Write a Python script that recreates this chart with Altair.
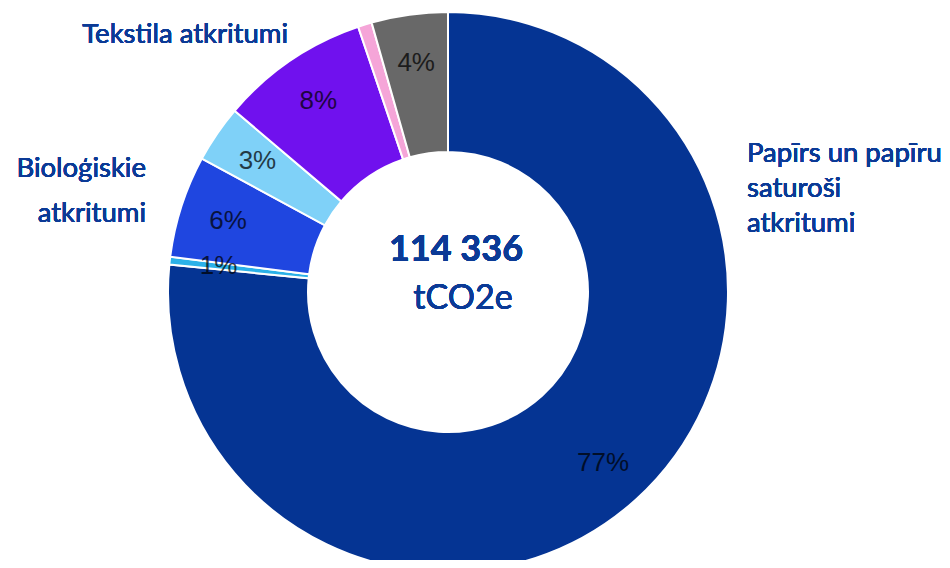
import altair as alt
import pandas as pd

categories = ["Papīrs un papīru saturoši atkritumi", "Cits 1", "Bioloģiskie atkritumi",
              "Cits 2", "Tekstila atkritumi", "Cits 3", "Cits 4"]
values = [76.6, 0.45, 5.9, 3.3, 8.6, 0.8, 4.4]
pct_labels = ["77%", "1%", "6%", "3%", "8%", "", "4%"]
colors = ["#053493", "#2bb1e8", "#1f46e0", "#7fd1f8", "#7011ee", "#f5a5d8", "#686868"]
total_label = "114 336"
unit_label = "tCO2e"

df = pd.DataFrame({"cat": categories, "value": values, "label": pct_labels,
                   "order": list(range(len(categories)))})

CX, CY = 440, 284
base = alt.Chart(df).encode(
    theta=alt.Theta("value:Q", stack=True),
    order=alt.Order("order:Q"),
)

arcs = base.mark_arc(outerRadius=280, innerRadius=140, stroke="white", strokeWidth=2).encode(
    color=alt.Color("cat:N", scale=alt.Scale(domain=categories, range=colors), legend=None),
    x=alt.value(CX), y=alt.value(CY),
)

pct = base.mark_text(radius=231, fontSize=26, font="Liberation Sans", fontWeight="normal",
                     color="#000000", opacity=0.72).encode(
    text="label:N", x=alt.value(CX), y=alt.value(CY),
)

txt_color = "#0b3a96"
center1 = alt.Chart(df).mark_text(font="Lato", fontWeight="bold", fontSize=36, color=txt_color).encode(
    x=alt.value(CX + 8), y=alt.value(CY - 42), text=alt.value(total_label))
center2 = alt.Chart(df).mark_text(font="Lato", fontWeight=400, fontSize=34, color=txt_color).encode(
    x=alt.value(CX + 15), y=alt.value(CY + 7), text=alt.value(unit_label))

lab_paper = alt.Chart(df).mark_text(font="Lato", fontWeight=400, fontSize=27.5, color=txt_color,
                                    align="left", lineHeight=35).encode(
    x=alt.value(739), y=alt.value(146), text=alt.value(["Papīrs un papīru", "saturoši", "atkritumi"]))
lab_tex = alt.Chart(df).mark_text(font="Lato", fontWeight=400, fontSize=27.5, color=txt_color,
                                  align="right").encode(
    x=alt.value(280), y=alt.value(27), text=alt.value("Tekstila atkritumi"))
lab_bio = alt.Chart(df).mark_text(font="Lato", fontWeight=400, fontSize=27.5, color=txt_color,
                                  align="right", lineHeight=45).encode(
    x=alt.value(138), y=alt.value(161), text=alt.value(["Bioloģiskie", "atkritumi"]))

chart = alt.layer(arcs, pct, center1, center2, lab_paper, lab_tex, lab_bio).properties(
    width=934, height=552, padding=0, autosize=alt.AutoSizeParams(type="none")
).configure_view(stroke=None)

chart.save("out.html", embed_options={"renderer": "svg", "actions": False})
